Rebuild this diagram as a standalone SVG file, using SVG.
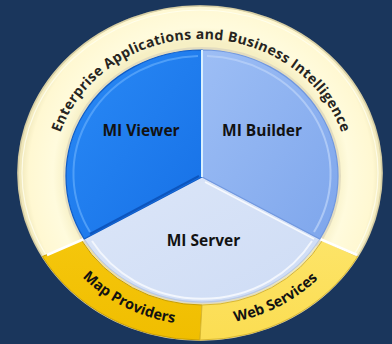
<svg xmlns="http://www.w3.org/2000/svg" width="392" height="344" viewBox="0 0 392 344">
<style>
.lbl{font-family:"Open Sans","Liberation Sans",sans-serif;font-weight:bold;fill:#121212;}
.core{font-size:15.5px;text-anchor:middle;}
.arc{font-size:14px;fill:#262420;}
.seg{font-size:14.5px;}
.edge{fill:none;stroke-linejoin:round;}
</style>
<defs>
<radialGradient id="gCream" cx="201" cy="175" r="185" gradientUnits="userSpaceOnUse">
<stop offset="0.72" stop-color="#F6EFC4"/>
<stop offset="0.8" stop-color="#FFFBDD"/>
<stop offset="0.93" stop-color="#FFF8D2"/>
<stop offset="1" stop-color="#E9E0B0"/>
</radialGradient>
<linearGradient id="gViewer" x1="0" y1="0" x2="1" y2="1">
<stop offset="0" stop-color="#2A8AF6"/>
<stop offset="1" stop-color="#1670E6"/>
</linearGradient>
<linearGradient id="gBuilder" x1="0" y1="0" x2="1" y2="1">
<stop offset="0" stop-color="#9DBEF5"/>
<stop offset="1" stop-color="#7EA6EC"/>
</linearGradient>
<linearGradient id="gServer" x1="0" y1="0" x2="1" y2="1">
<stop offset="0" stop-color="#DCE6F8"/>
<stop offset="1" stop-color="#CEDCF5"/>
</linearGradient>
<linearGradient id="gMap" x1="0" y1="0" x2="0" y2="1">
<stop offset="0" stop-color="#F5C60C"/>
<stop offset="1" stop-color="#F0BE00"/>
</linearGradient>
<linearGradient id="gWeb" x1="0" y1="0" x2="0" y2="1">
<stop offset="0" stop-color="#FDE468"/>
<stop offset="1" stop-color="#FBDD52"/>
</linearGradient>
<path id="pTop" d="M 53,175 A 148 136 0 0 1 349,175"/>
<path id="pMap" d="M 44.5,213.8 A 162 150 0 0 0 248.3,318.4"/>
<path id="pWeb" d="M 156.3,319.2 A 162 150 0 0 0 358.2,211.3"/>
</defs>
<rect width="392" height="344" fill="#1A365C"/>

<g id="ring">
<ellipse cx="200" cy="173" rx="183" ry="168" fill="#8F8C7E" opacity="0.6"/>
<ellipse cx="200" cy="173" rx="182" ry="167" fill="url(#gCream)" stroke="#D8D0A6" stroke-width="1.5"/>
<ellipse cx="200" cy="173" rx="178" ry="163" class="edge" stroke="#FFFFF0" stroke-width="1.2" opacity="0.8"/>
<ellipse cx="202" cy="176" rx="139" ry="129" fill="#E2DCC0"/>
<text class="lbl arc"><textPath href="#pTop" startOffset="50%" text-anchor="middle" textLength="360" lengthAdjust="spacing">Enterprise Applications and Business Intelligence</textPath></text>
</g>

<g id="map-providers">
<path d="M 42.4,256.5 A 182 167 0 0 0 200,340 L 202,305 A 139 129 0 0 1 81.6,240.5 Z" fill="url(#gMap)" stroke="#C99F00" stroke-width="1"/>
<path d="M 47,255 L 84,239" class="edge" stroke="#FFFFFF" stroke-width="2.5"/>
<path d="M 88,246 A 132 122 0 0 0 197,301" class="edge" stroke="#FCE48A" stroke-width="2" opacity="0.8"/>
<text class="lbl seg"><textPath href="#pMap" startOffset="50%" text-anchor="middle">Map Providers</textPath></text>
</g>

<g id="web-services">
<path d="M 200,340 A 182 167 0 0 0 357.6,256.5 L 322.4,240.5 A 139 129 0 0 1 202,305 Z" fill="url(#gWeb)" stroke="#D9B830" stroke-width="1"/>
<path d="M 320,239 L 357,255" class="edge" stroke="#FFFFFF" stroke-width="2.5"/>
<path d="M 205,301 A 132 122 0 0 0 316,246" class="edge" stroke="#FFF2A8" stroke-width="2" opacity="0.8"/>
<text class="lbl seg"><textPath href="#pWeb" startOffset="50%" text-anchor="middle">Web Services</textPath></text>
</g>

<g id="mi-server">
<path d="M 202,177 L 84.2,239 A 136 126 0 0 0 319.8,239 Z" fill="url(#gServer)" stroke="#B9C8E6" stroke-width="1.2"/>
<path d="M 92,241 A 128 118 0 0 0 312,241" class="edge" stroke="#F2F6FD" stroke-width="2"/>
<path d="M 205,182 L 314,239" class="edge" stroke="#FFFFFF" stroke-width="1.5" opacity="0.8"/>
<text class="lbl core" x="203.5" y="246">MI Server</text>
</g>

<g id="mi-viewer">
<path d="M 202,177 L 202,50 A 136 126 0 0 0 84.2,239 Z" fill="url(#gViewer)" stroke="#0E5CC8" stroke-width="1.2"/>
<path d="M 198,56 A 128 118 0 0 0 90,232" class="edge" stroke="#5AA6FA" stroke-width="2" opacity="0.8"/>
<path d="M 199,176 L 90,234" class="edge" stroke="#0C55BE" stroke-width="2"/>
<text class="lbl core" x="141" y="136">MI Viewer</text>
</g>

<g id="mi-builder">
<path d="M 202,177 L 202,50 A 136 126 0 0 1 319.8,239 Z" fill="url(#gBuilder)" stroke="#6F97E0" stroke-width="1.2"/>
<path d="M 207,56 A 128 118 0 0 1 314,232" class="edge" stroke="#B6CFF8" stroke-width="2" opacity="0.8"/>
<path d="M 202,50 L 202,177" class="edge" stroke="#D8F0FF" stroke-width="2"/>
<text class="lbl core" x="262" y="136">MI Builder</text>
</g>

<g id="connectors"/>
</svg>
